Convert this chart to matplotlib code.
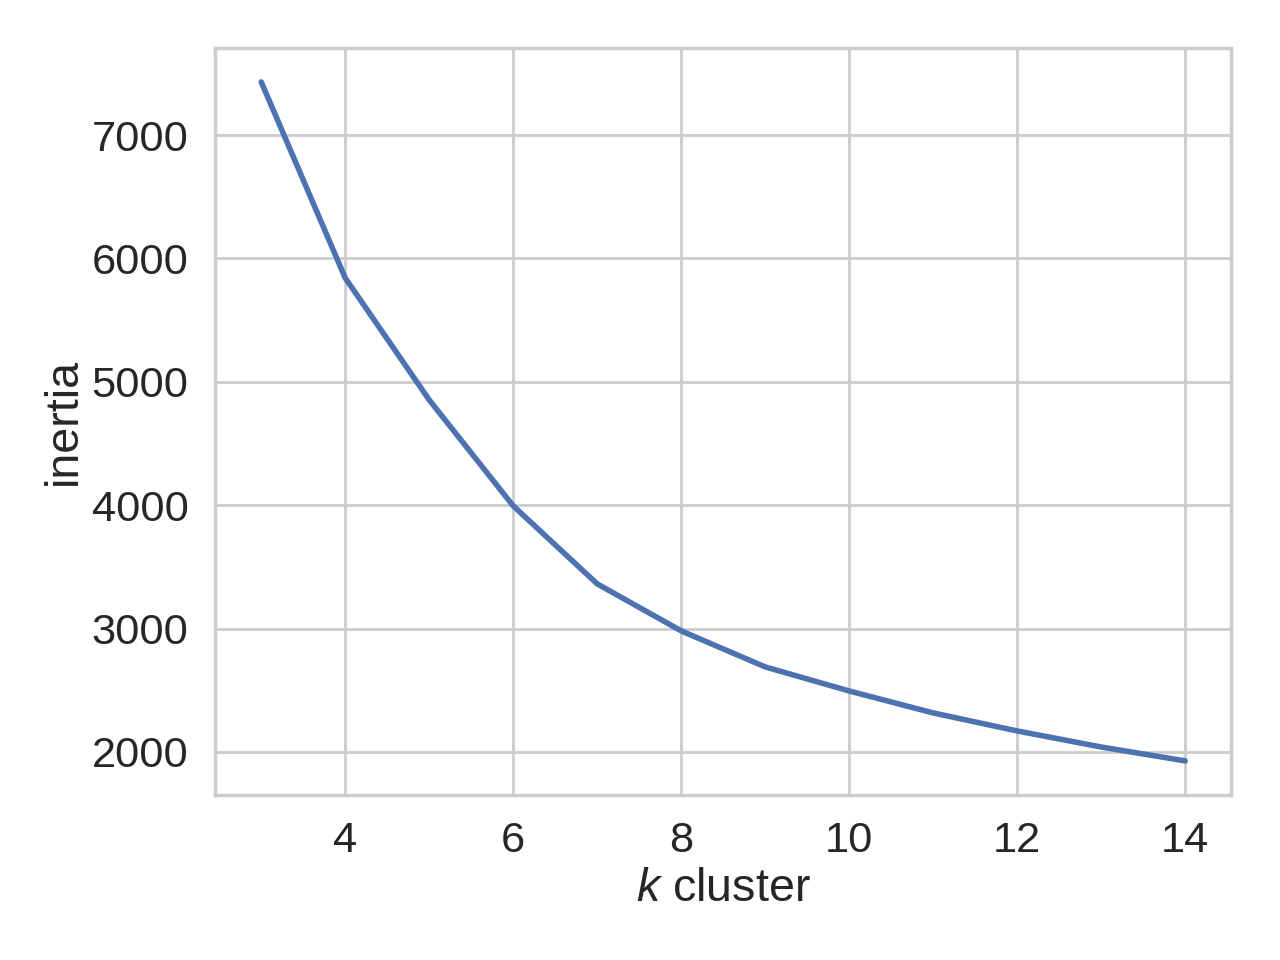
import matplotlib
matplotlib.use('Agg')
import matplotlib.pyplot as plt
import seaborn as sns

k_values = [3, 4, 5, 6, 7, 8, 9, 10, 11, 12, 13, 14]
inertia = [7430, 5841, 4853, 3994, 3362, 2981, 2689, 2494, 2316, 2170, 2040, 1927]

sns.set_theme(style='whitegrid', font_scale=1.4)
plt.rcParams['font.family'] = ['Liberation Sans', 'DejaVu Sans']
plt.rcParams['mathtext.fontset'] = 'custom'
plt.rcParams['mathtext.it'] = 'Liberation Sans:italic'
plt.rcParams['mathtext.rm'] = 'Liberation Sans'

fig, ax = plt.subplots(figsize=(6.4, 4.8), dpi=200)
ax.plot(k_values, inertia, color='#4c72b0', linewidth=2)
ax.set_xlabel('$k$ cluster', fontsize=16.8, labelpad=2)
ax.set_ylabel('inertia', fontsize=16.8, labelpad=2)
ax.tick_params(axis='both', labelsize=15.6, pad=3.5)
ax.set_xticks([4, 6, 8, 10, 12, 14])
fig.subplots_adjust(left=0.168, right=0.962, top=0.95, bottom=0.172)
fig.savefig('out.png')
